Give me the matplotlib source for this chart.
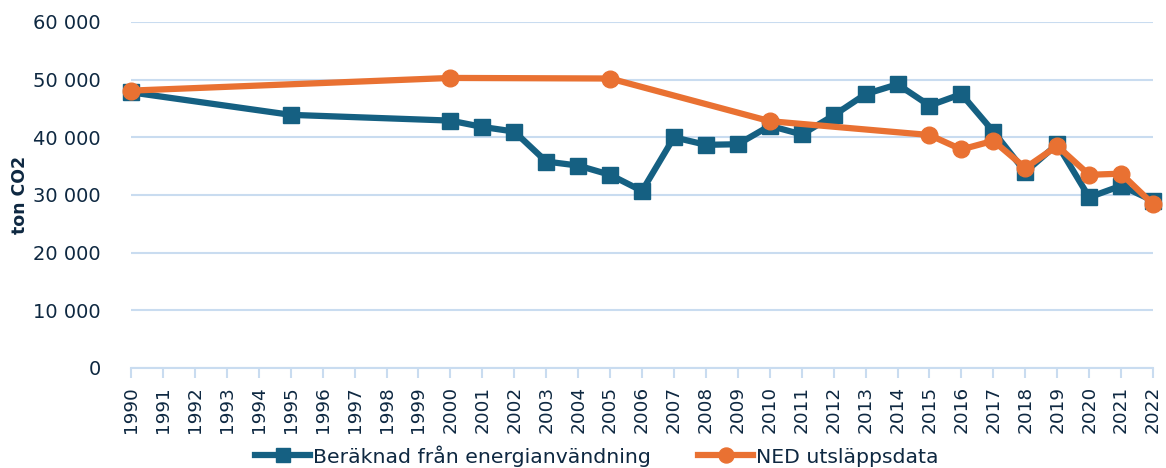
import matplotlib.pyplot as plt
import matplotlib.ticker as mticker
import numpy as np

years = list(range(1990, 2023))

# Beräknad från energianvändning (None = saknas)
energy = [47800, None, None, None, None, 43900, None, None, None, None,
          42900, 41800, 41000, 35800, 35100, 33500, 30700, 40000, 38700, 38800,
          42000, 40500, 43800, 47500, 49200, 45500, 47500, 41000, 34000, 38800,
          29600, 31600, 29000]

# NED utsläppsdata
ned = [48100, None, None, None, None, None, None, None, None, None,
       50300, None, None, None, None, 50200, None, None, None, None,
       42800, None, None, None, None, 40400, 37900, 39400, 34700, 38500,
       33500, 33700, 28400]

blue = "#156082"
orange = "#E97132"
text_col = "#0E2841"
grid_col = "#C9DCF0"

plt.rcParams["font.family"] = ["DejaVu Sans"]

fig = plt.figure(figsize=(11.66, 4.68), dpi=100)
ax = fig.add_axes([0.1124, 0.2137, 0.8765, 0.7393])

x = np.arange(len(years))


def present(values):
    idx = [i for i, v in enumerate(values) if v is not None]
    return x[idx], np.array([values[i] for i in idx], dtype=float)


bx, by = present(energy)
ox, oy = present(ned)

ax.plot(bx, by, color=blue, linewidth=4.5, marker="s", markersize=11.5,
        markerfacecolor=blue, markeredgecolor=blue, clip_on=False, zorder=3,
        label="Beräknad från energianvändning")
ax.plot(ox, oy, color=orange, linewidth=4.5, marker="o", markersize=12,
        markerfacecolor=orange, markeredgecolor=orange, clip_on=False, zorder=4,
        label="NED utsläppsdata")

ax.set_xlim(0, len(years) - 1)
ax.set_ylim(0, 60000)
ax.yaxis.set_major_locator(mticker.MultipleLocator(10000))
ax.yaxis.set_major_formatter(
    mticker.FuncFormatter(lambda v, _: f"{int(v):,}".replace(",", " ")))

ax.set_xticks(x)
ax.set_xticklabels([str(y) for y in years], rotation=90, fontsize=13.3,
                   color=text_col)
ax.tick_params(axis="x", length=7, width=1.5, color=grid_col, pad=6)
ax.tick_params(axis="y", length=0, pad=22, labelsize=14, labelcolor=text_col)

ax.grid(axis="y", color=grid_col, linewidth=1.5)
ax.set_axisbelow(True)
for side in ["top", "right", "left"]:
    ax.spines[side].set_visible(False)
ax.spines["bottom"].set_color(grid_col)
ax.spines["bottom"].set_linewidth(1.5)

ax.set_ylabel("ton CO2", fontsize=12.5, fontweight="bold", color=text_col,
              va="center")
ax.yaxis.set_label_coords(-0.1086, 0.5)

fig.legend(loc="center", bbox_to_anchor=(0.512, 0.026), ncol=2, frameon=False,
           fontsize=14.7, labelcolor=text_col, handlelength=2.7,
           handletextpad=0.15, columnspacing=2.3, markerscale=0.9,
           borderpad=0.2)

fig.savefig("out.png", dpi=100)
